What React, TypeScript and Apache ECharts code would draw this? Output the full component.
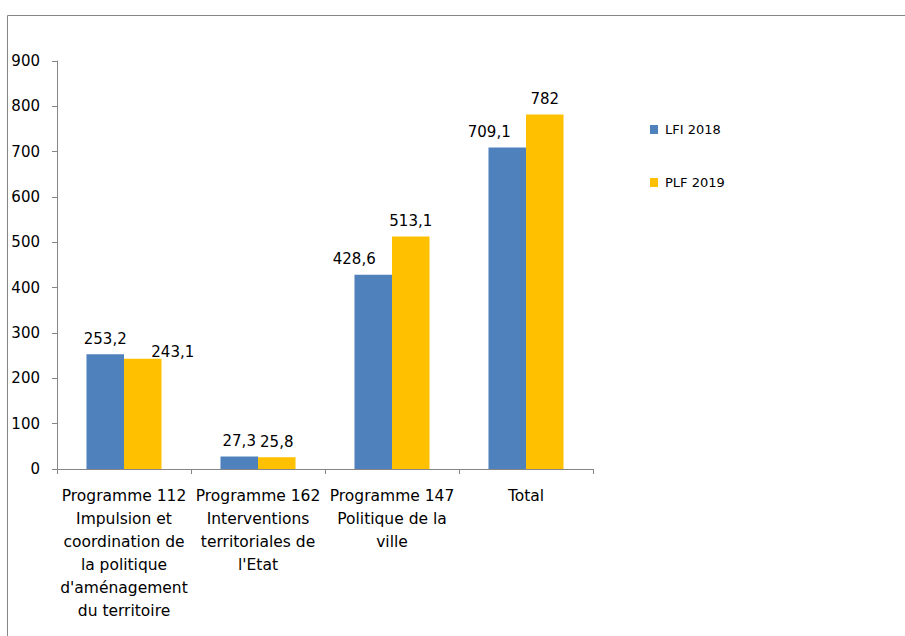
import React, { useEffect, useRef } from "react";
import * as echarts from "echarts";

const categories = [
  "Programme 112\nImpulsion et\ncoordination de\nla politique\nd'aménagement\ndu territoire",
  "Programme 162\nInterventions\nterritoriales de\nl'Etat",
  "Programme 147\nPolitique de la\nville",
  "Total",
];
const seriesNames = ["LFI 2018", "PLF 2019"];
const lfi2018 = [253.2, 27.3, 428.6, 709.1];
const plf2019 = [243.1, 25.8, 513.1, 782];
const yTicks = { min: 0, max: 900, interval: 100 };

const FONT = "DejaVu Sans";
const fmt = (v: number) => String(v).replace(".", ",");

export default function App() {
  const ref = useRef<HTMLDivElement>(null);
  useEffect(() => {
    if (!ref.current) return;
    const chart = echarts.init(ref.current, null, { renderer: "svg" });
    const lfiOffsets: Record<number, number[]> = { 2: [-19, 0], 3: [-18, 0] };
    const plfOffsets: Record<number, number[]> = { 0: [30, 9] };
    const mk = (vals: number[], offs: Record<number, number[]>) =>
      vals.map((v, i) => (offs[i] ? { value: v, label: { offset: offs[i] } } : v));
    const labelStyle = {
      show: true,
      position: "top",
      distance: 8,
      fontFamily: FONT,
      fontSize: 15,
      color: "#000",
      formatter: (p: any) => fmt(p.value),
    };
    chart.setOption({
      animation: false,
      backgroundColor: "#fff",
      textStyle: { fontFamily: FONT },
      grid: { left: 57, right: 312, top: 61, bottom: 167, containLabel: false },
      legend: {
        orient: "vertical",
        left: 645,
        top: 118,
        itemWidth: 8,
        itemHeight: 9,
        itemGap: 40,
        icon: "rect",
        textStyle: { fontFamily: FONT, fontSize: 13, color: "#000", padding: [0, 0, 0, 2] },
        data: seriesNames,
      },
      xAxis: {
        type: "category",
        data: categories,
        axisLine: { lineStyle: { color: "#868686", width: 1 } },
        axisTick: { show: true, length: 5, lineStyle: { color: "#868686" } },
        axisLabel: {
          interval: 0,
          fontFamily: FONT,
          fontSize: 15.5,
          color: "#000",
          lineHeight: 23,
          margin: 15,
        },
      },
      yAxis: {
        type: "value",
        min: yTicks.min,
        max: yTicks.max,
        interval: yTicks.interval,
        splitLine: { show: false },
        axisLine: { show: true, lineStyle: { color: "#868686", width: 1 } },
        axisTick: { show: true, length: 5, lineStyle: { color: "#868686" } },
        axisLabel: { fontFamily: FONT, fontSize: 15, color: "#000", margin: 17 },
      },
      series: [
        {
          name: seriesNames[0],
          type: "bar",
          data: mk(lfi2018, lfiOffsets),
          itemStyle: { color: "#4F81BD" },
          barGap: "0%",
          barCategoryGap: "44%",
          label: labelStyle,
        },
        {
          name: seriesNames[1],
          type: "bar",
          data: mk(plf2019, plfOffsets),
          itemStyle: { color: "#FFC000" },
          barGap: "0%",
          barCategoryGap: "44%",
          label: labelStyle,
        },
      ],
      graphic: [
        {
          type: "rect",
          shape: { x: 7.5, y: 15.5, width: 1200, height: 1200 },
          style: { fill: "none", stroke: "#868686", lineWidth: 1 },
          silent: true,
        },
      ],
    });
    return () => chart.dispose();
  }, []);
  return (
    <div
      ref={ref}
      style={{ position: "absolute", left: 0, top: 0, width: 905, height: 636 }}
    />
  );
}
